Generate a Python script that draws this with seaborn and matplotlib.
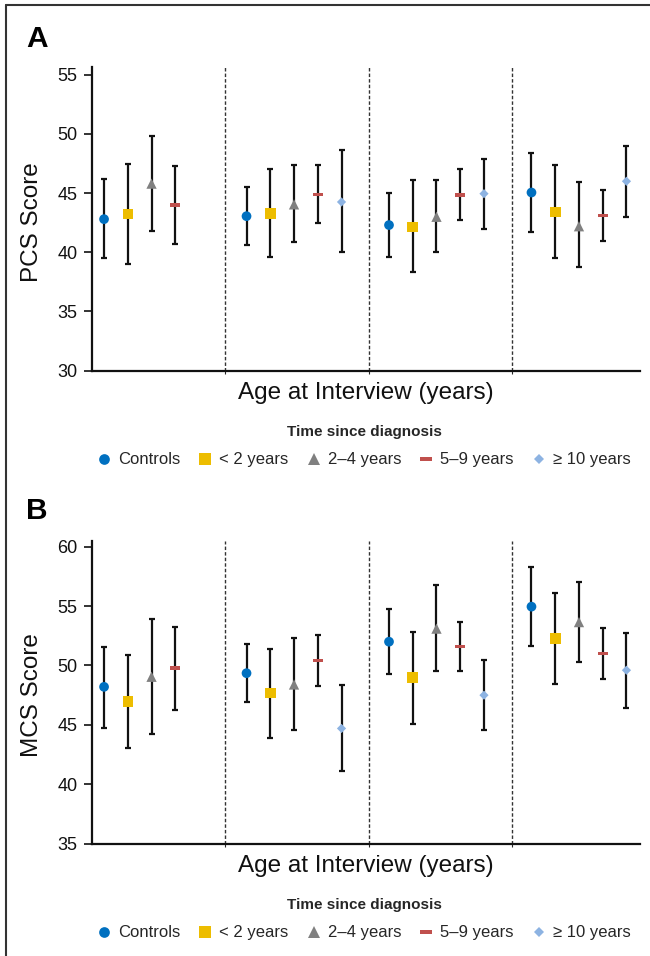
import numpy as np
import pandas as pd
import matplotlib
matplotlib.use("Agg")
import matplotlib.pyplot as plt
import seaborn as sns
from matplotlib.lines import Line2D
from matplotlib.path import Path

# ---------------- data ----------------
categories = ["Controls", "< 2 years", "2–4 years", "5–9 years", "≥ 10 years"]
age_groups = ["Age band 1", "Age band 2", "Age band 3", "Age band 4"]  # unlabeled in figure

# Panel A: PCS score (rows = age band, columns = category); None = not shown
pcs_mean = [[42.8, 43.25, 45.8, 44.0, None],
            [43.05, 43.3, 44.05, 44.9, 44.25],
            [42.3, 42.15, 43.0, 44.85, 44.95],
            [45.05, 43.4, 42.2, 43.1, 46.0]]
pcs_low = [[39.5, 39.05, 41.8, 40.7, None],
           [40.6, 39.6, 40.9, 42.5, 40.0],
           [39.6, 38.3, 40.05, 42.7, 42.0],
           [41.75, 39.5, 38.75, 40.95, 43.0]]
pcs_high = [[46.2, 47.45, 49.85, 47.3, None],
            [45.55, 47.05, 47.35, 47.35, 48.6],
            [45.05, 46.1, 46.1, 47.05, 47.9],
            [48.35, 47.4, 45.9, 45.25, 48.95]]

# Panel B: MCS score
mcs_mean = [[48.2, 46.95, 49.05, 49.8, None],
            [49.35, 47.7, 48.4, 50.4, 44.7],
            [52.0, 49.0, 53.1, 51.6, 47.5],
            [54.95, 52.25, 53.65, 51.0, 49.6]]
mcs_low = [[44.75, 43.05, 44.2, 46.25, None],
           [46.9, 43.9, 44.6, 48.3, 41.1],
           [49.25, 45.1, 49.55, 49.5, 44.55],
           [51.6, 48.45, 50.3, 48.9, 46.4]]
mcs_high = [[51.55, 50.9, 53.95, 53.25, None],
            [51.8, 51.4, 52.35, 52.55, 48.35],
            [54.75, 52.85, 56.75, 53.65, 50.45],
            [58.3, 56.1, 57.05, 53.15, 52.75]]

colors = {"Controls": "#0070C0", "< 2 years": "#EDBD00", "2–4 years": "#808080",
          "5–9 years": "#C0504D", "≥ 10 years": "#8DB3E2"}
bar_marker = Path([(-1, -0.33), (1, -0.33), (1, 0.33), (-1, 0.33), (-1, -0.33)],
                  [Path.MOVETO, Path.LINETO, Path.LINETO, Path.LINETO, Path.CLOSEPOLY])
markers = {"Controls": "o", "< 2 years": "s", "2–4 years": "^",
           "5–9 years": bar_marker, "≥ 10 years": "D"}
msize = {"Controls": 7.0, "< 2 years": 7.6, "2–4 years": 7.4,
         "5–9 years": 7.4, "≥ 10 years": 4.7}


def long_frame(mean, low, high):
    rows = []
    for g, grp in enumerate(age_groups):
        for i, cat in enumerate(categories):
            m = mean[g][i]
            if m is None:
                continue
            rows.append(dict(age=grp, category=cat, x=g * 6 + i,
                             mean=m, lo=low[g][i], hi=high[g][i]))
    return pd.DataFrame(rows)


df_pcs = long_frame(pcs_mean, pcs_low, pcs_high)
df_mcs = long_frame(mcs_mean, mcs_low, mcs_high)
separators = [5.1, 11.15, 17.2]

# ---------------- style ----------------
sns.set_style("white")
plt.rcParams["font.family"] = ["Liberation Sans", "DejaVu Sans"]
narrow = ["Liberation Sans", "DejaVu Sans"]

fig = plt.figure(figsize=(6.5, 9.56), dpi=100)
W, H = 650, 956


def add_axes(left, top, right, bottom):
    return fig.add_axes([left / W, 1 - bottom / H, (right - left) / W, (bottom - top) / H])


axA = add_axes(91.7, 67, 640, 370.7)
axB = add_axes(91.7, 540.7, 640, 843.7)


def draw_panel(ax, df, ylim, yticks, ylabel, letter, letter_y):
    for cat in categories:
        sub = df[df.category == cat]
        ax.errorbar(sub.x, sub["mean"],
                    yerr=[sub["mean"] - sub.lo, sub.hi - sub["mean"]],
                    fmt="none", ecolor="#111111", elinewidth=1.6,
                    capsize=2.3, capthick=1.6, zorder=2)
        sns.scatterplot(data=sub, x="x", y="mean", marker=markers[cat],
                        s=msize[cat] ** 2, color=colors[cat], linewidth=0,
                        edgecolor="none", ax=ax, zorder=3, legend=False)
    for s in separators:
        ax.axvline(s, color="#333333", lw=1.0, ls=(0, (2.5, 1.5)), zorder=1)
    ax.set_xlim(-0.52, 22.57)
    ax.set_ylim(*ylim)
    ax.set_yticks(yticks)
    ax.set_xticks(separators)
    ax.set_xticklabels([])
    ax.tick_params(axis="y", length=5.5, width=1.2, direction="out", pad=4.5,
                   labelsize=13, colors="#111111", left=True)
    ax.tick_params(axis="x", length=2.5, width=0.8, direction="out", bottom=True)
    for side in ["top", "right"]:
        ax.spines[side].set_visible(False)
    for side in ["left", "bottom"]:
        ax.spines[side].set_linewidth(1.6)
        ax.spines[side].set_color("#111111")
    ax.set_xlabel("")
    ax.set_ylabel("")
    ax.text(-0.108, 0.49, ylabel, transform=ax.transAxes, rotation=90,
            ha="center", va="center", fontsize=17.5, family=narrow, color="#111111")
    ax.text(0.5, -0.074, "Age at Interview (years)", transform=ax.transAxes,
            ha="center", va="center", fontsize=17.5, family=narrow, color="#111111")
    fig.text(26 / W, 1 - letter_y / H, letter, fontsize=21.5, fontweight="bold",
             ha="left", va="center", color="black")


draw_panel(axA, df_pcs, (30, 55.65), [30, 35, 40, 45, 50, 55], "PCS Score", "A", 39)
draw_panel(axB, df_mcs, (35, 60.5), [35, 40, 45, 50, 55, 60], "MCS Score", "B", 511)

handles = [Line2D([], [], ls="none", marker=markers[c], ms=msize[c] * 1.1,
                  color=colors[c], mew=0) for c in categories]

for yc in (446, 919):
    leg = fig.legend(handles, categories, loc="center",
                     bbox_to_anchor=(364 / W, 1 - yc / H), ncol=5, frameon=False,
                     title="Time since diagnosis", handlelength=0.8,
                     handletextpad=0.45, columnspacing=1.1,
                     prop={"family": narrow, "size": 12},
                     title_fontproperties={"family": narrow, "size": 11, "weight": "bold"})
    leg._legend_box.sep = 10

# outer frame (top and left edge)
fig.add_artist(Line2D([6 / W, 6 / W], [0, 1 - 5 / H], transform=fig.transFigure,
                      color="#333333", lw=1.5))
fig.add_artist(Line2D([6 / W, 1], [1 - 5 / H, 1 - 5 / H], transform=fig.transFigure,
                      color="#333333", lw=1.5))

fig.savefig("out.png", dpi=100)
